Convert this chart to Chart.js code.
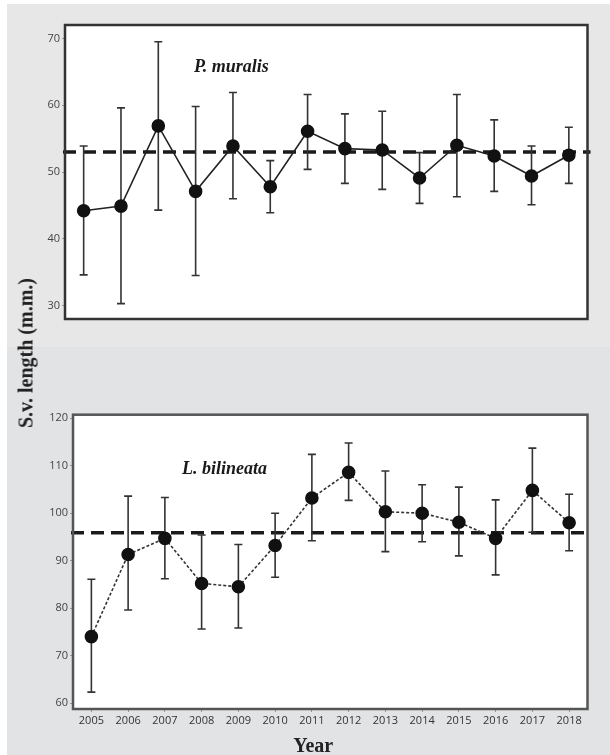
<!DOCTYPE html>
<html>
<head>
<meta charset="utf-8">
<script src="https://cdn.jsdelivr.net/npm/chart.js@4.4.0/dist/chart.umd.min.js"></script>
<style>
  body { margin: 0; background: #fff; width: 610px; height: 755px; position: relative; overflow: hidden; }
  .panel { position: absolute; left: 7px; width: 603px; }
  #top { top: 4px; height: 343px; background: #e7e7e7; }
  #bottom { top: 347px; height: 408px; background: #e2e3e5; }
  #ytitle {
    position: absolute; left: 26px; top: 353px;
    transform: translate(-50%, -50%) rotate(-90deg);
    font: bold 20px "Liberation Serif", "DejaVu Serif", serif; color: #222; white-space: nowrap;
  }
</style>
</head>
<body>
<div id="top" class="panel"><canvas id="c1" width="603" height="343"></canvas></div>
<div id="bottom" class="panel"><canvas id="c2" width="603" height="408"></canvas></div>
<div id="ytitle">S.v. length (m.m.)</div>
<script>
// years on x axis
var years = ['2005', '2006', '2007', '2008', '2009', '2010', '2011', '2012', '2013', '2014', '2015', '2016', '2017', '2018'];

// P. muralis: mean, upper and lower whisker
var murMean = [44.2, 44.9, 56.9, 47.1, 53.9, 47.8, 56.1, 53.5, 53.3, 49.1, 54.0, 52.4, 49.4, 52.5];
var murHigh = [53.9, 59.6, 69.5, 59.8, 61.9, 51.7, 61.6, 58.7, 59.1, 52.9, 61.6, 57.8, 53.9, 56.7];
var murLow = [34.6, 30.3, 44.3, 34.5, 46.0, 43.9, 50.4, 48.3, 47.4, 45.3, 46.3, 47.1, 45.1, 48.3];
var murAvg = 53.0;
var murTicks = [30, 40, 50, 60, 70];

// L. bilineata
var bilMean = [74.0, 91.3, 94.7, 85.2, 84.5, 93.2, 103.2, 108.6, 100.3, 100.0, 98.1, 94.7, 104.8, 98.0];
var bilHigh = [86.1, 103.6, 103.3, 95.4, 93.4, 100.0, 112.4, 114.8, 108.9, 106.0, 105.5, 102.8, 113.7, 104.0];
var bilLow = [62.3, 79.6, 86.2, 75.6, 75.8, 86.5, 94.2, 102.7, 91.9, 94.0, 91.0, 87.0, 96.0, 92.1];
var bilAvg = 95.9;
var bilTicks = [60, 70, 80, 90, 100, 110, 120];

var tickFont = { family: '"Open Sans", "DejaVu Sans", sans-serif', size: 11 };
var serif = '"Liberation Serif", "DejaVu Serif", serif';

// white plot area, error bars, mean line, frame and species name
function extrasPlugin(high, low, avg, name, nx, ny, frameColor, xTitle) {
    return {
        id: 'extras',
        beforeDatasetsDraw: function(chart) {
            let ctx = chart.ctx, xs = chart.scales.x, ys = chart.scales.y, a = chart.chartArea;
            ctx.save();
            ctx.fillStyle = '#ffffff';
            ctx.fillRect(a.left, a.top, a.right - a.left, a.bottom - a.top);
            // dashed mean line
            ctx.strokeStyle = '#1a1a1a';
            ctx.lineWidth = 3.5;
            ctx.setLineDash([13, 7]);
            let my = ys.getPixelForValue(avg);
            ctx.beginPath();
            ctx.moveTo(a.left - 2, my);
            ctx.lineTo(a.right + 3, my);
            ctx.stroke();
            ctx.setLineDash([]);
            // whiskers
            ctx.strokeStyle = '#333';
            ctx.lineWidth = 1.6;
            for (let i = 0; i < high.length; i++) {
                let x = xs.getPixelForValue(i);
                let yh = ys.getPixelForValue(high[i]), yl = ys.getPixelForValue(low[i]);
                ctx.beginPath();
                ctx.moveTo(x, yh); ctx.lineTo(x, yl);
                ctx.moveTo(x - 4, yh); ctx.lineTo(x + 4, yh);
                ctx.moveTo(x - 4, yl); ctx.lineTo(x + 4, yl);
                ctx.stroke();
            }
            ctx.restore();
        },
        afterDraw: function(chart) {
            let ctx = chart.ctx, a = chart.chartArea;
            ctx.save();
            ctx.strokeStyle = frameColor;
            ctx.lineWidth = 2.5;
            ctx.strokeRect(a.left, a.top, a.right - a.left, a.bottom - a.top);
            ctx.fillStyle = '#1a1a1a';
            ctx.font = 'italic bold 18px ' + serif;
            ctx.textBaseline = 'middle';
            ctx.fillText(name, a.left + nx * (a.right - a.left), a.top + ny * (a.bottom - a.top));
            if (xTitle) {
                ctx.font = 'bold 20px ' + serif;
                ctx.textAlign = 'center';
                ctx.fillStyle = '#222';
                ctx.fillText(xTitle, (a.left + a.right) / 2 - 17, chart.height - 8);
            }
            ctx.restore();
        }
    };
}

var c1 = new Chart(document.getElementById('c1'), {
    type: 'line',
    data: {
        labels: years,
        datasets: [{
            data: murMean,
            borderColor: '#222',
            borderWidth: 1.6,
            pointRadius: 6,
            pointBackgroundColor: '#111',
            pointBorderColor: '#111',
            tension: 0,
        }],
    },
    options: {
        responsive: false,
        animation: false,
        layout: { padding: { top: 21, right: 22.5, bottom: 28, left: 0 } },
        plugins: { legend: { display: false }, tooltip: { enabled: false } },
        scales: {
            x: { display: false, offset: true },
            y: {
                min: 28, max: 72,
                afterFit: function(s) { s.width = 58; },
                afterBuildTicks: function(s) { s.ticks = murTicks.map(v => ({ value: v })); },
                grid: { drawOnChartArea: false, tickLength: 3, color: '#999' },
                border: { display: false },
                ticks: { font: tickFont, color: '#444', padding: 2 },
            },
        },
    },
    plugins: [extrasPlugin(murHigh, murLow, murAvg, 'P. muralis', 0.247, 0.143, '#333')]
});

var c2 = new Chart(document.getElementById('c2'), {
    type: 'line',
    data: {
        labels: years,
        datasets: [{
            data: bilMean,
            borderColor: '#333',
            borderWidth: 1.6,
            borderDash: [3, 2],
            pointRadius: 6,
            pointBackgroundColor: '#111',
            pointBorderColor: '#111',
            tension: 0,
        }],
    },
    options: {
        responsive: false,
        animation: false,
        layout: { padding: { top: 67.7, right: 22.5, bottom: 0, left: 0 } },
        plugins: { legend: { display: false }, tooltip: { enabled: false } },
        scales: {
            x: {
                offset: true,
                afterFit: function(s) { s.height = 46; },
                grid: { drawOnChartArea: false, tickLength: 3, color: '#999', offset: false },
                border: { display: false },
                ticks: { font: tickFont, color: '#333', padding: 2, maxRotation: 0, autoSkip: false },
            },
            y: {
                min: 58.75, max: 120.75,
                afterFit: function(s) { s.width = 66; },
                afterBuildTicks: function(s) { s.ticks = bilTicks.map(v => ({ value: v })); },
                grid: { drawOnChartArea: false, tickLength: 3, color: '#999' },
                border: { display: false },
                ticks: { font: tickFont, color: '#444', padding: 2 },
            },
        },
    },
    plugins: [extrasPlugin(bilHigh, bilLow, bilAvg, 'L. bilineata', 0.212, 0.185, '#555', 'Year')]
});
</script>
</body>
</html>
